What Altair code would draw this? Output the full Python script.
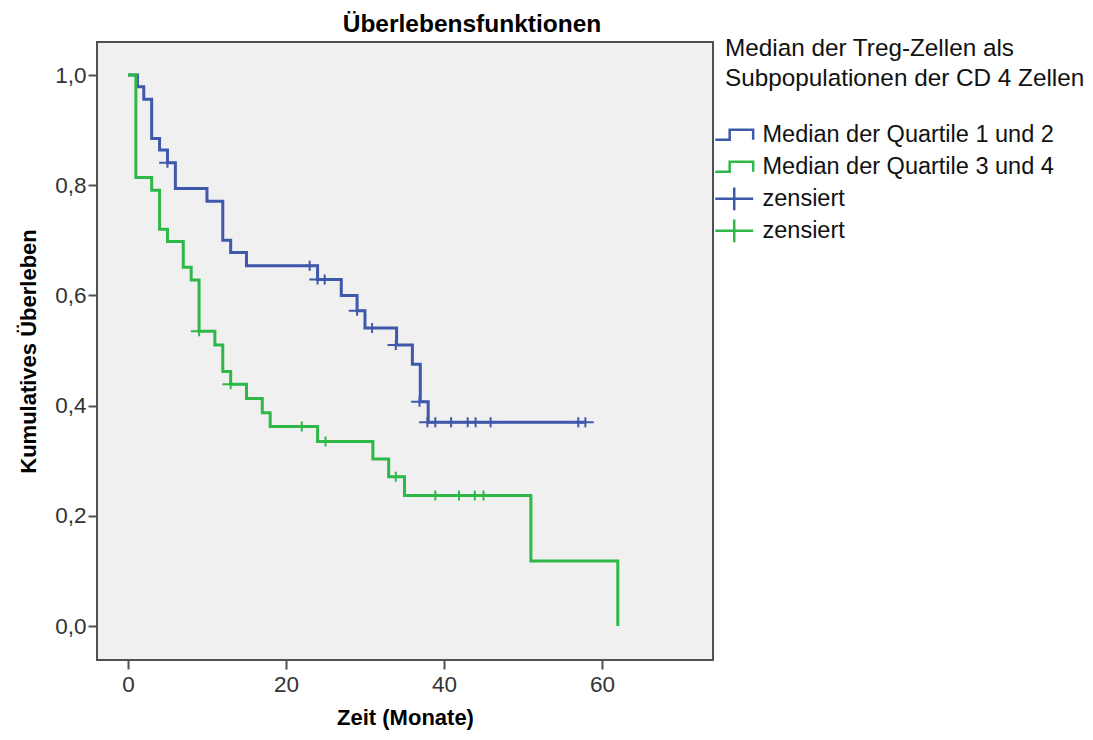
import altair as alt
import pandas as pd

# Kaplan-Meier step curves: time of each step (months) and survival after it
q12_time = [0, 1.2, 2.0, 3.0, 4.0, 5.0, 6.0, 10.0, 12.0, 13.0, 15.0, 24.0, 27.0, 29.0, 30.0, 34.0, 36.0, 37.0, 38.0, 57.9]
q12_surv = [1.0, 0.979, 0.956, 0.885, 0.864, 0.841, 0.794, 0.771, 0.700, 0.678, 0.654, 0.629, 0.600, 0.572, 0.541, 0.510, 0.475, 0.407, 0.370, 0.370]

q34_time = [0, 1.0, 3.0, 4.0, 5.0, 7.0, 8.0, 9.0, 11.0, 12.0, 13.0, 15.0, 17.0, 18.0, 24.0, 31.0, 33.0, 35.0, 51.0, 62.0]
q34_surv = [1.0, 0.814, 0.791, 0.720, 0.698, 0.651, 0.628, 0.535, 0.510, 0.462, 0.439, 0.413, 0.387, 0.362, 0.335, 0.303, 0.271, 0.237, 0.118, 0.0]

# Censored observations
q12_cens_time = [5.0, 23.0, 24.0, 24.9, 29.0, 30.9, 33.9, 36.9, 37.9, 38.9, 40.9, 43.0, 44.0, 45.9, 57.0, 57.9]
q12_cens_surv = [0.841, 0.654, 0.629, 0.629, 0.572, 0.541, 0.510, 0.407, 0.370, 0.370, 0.370, 0.370, 0.370, 0.370, 0.370, 0.370]

q34_cens_time = [9.0, 13.0, 22.0, 25.0, 33.9, 38.9, 41.9, 43.9, 45.0]
q34_cens_surv = [0.535, 0.439, 0.362, 0.335, 0.271, 0.237, 0.237, 0.237, 0.237]

keys = ["a", "b", "c", "d"]
key_labels = ["Median der Quartile 1 und 2", "Median der Quartile 3 und 4", "zensiert", "zensiert"]
colors = ["#3E58AC", "#2EB848", "#3E58AC", "#2EB848"]

# legend glyphs (shifted left so they hang out in front of the title);
# the trailing moves give both glyphs the same vertical extent
STEP = "M-1.77,0.35H-0.76V-0.35H0.89V0.35M-0.44,-0.8M-0.44,0.8"
PLUS = "M-1.77,0H0.89M-0.44,-0.8V0.8"
LEGEND_SYMBOL_SIZE = 812
MARK_SIZE = 156
# recentre the censor crosses on their data position
PLUS_SHIFT = 0.44 * (MARK_SIZE ** 0.5) / 2

curves = pd.concat([
    pd.DataFrame({"t": q12_time, "s": q12_surv, "key": "a"}),
    pd.DataFrame({"t": q34_time, "s": q34_surv, "key": "b"}),
])
cens = pd.concat([
    pd.DataFrame({"t": q12_cens_time, "s": q12_cens_surv, "key": "c"}),
    pd.DataFrame({"t": q34_cens_time, "s": q34_cens_surv, "key": "d"}),
])

FONT = "Liberation Sans"

label_expr = (
    f"datum.value == 'a' ? '{key_labels[0]}' : "
    f"datum.value == 'b' ? '{key_labels[1]}' : 'zensiert'"
)

legend = alt.Legend(
    title=["Median der Treg-Zellen als", "Subpopulationen der CD 4 Zellen"],
    orient="none",
    legendX=628,
    legendY=-5,
    labelExpr=label_expr,
    symbolSize=LEGEND_SYMBOL_SIZE,
    symbolStrokeWidth=2.5,
    symbolFillColor="transparent",
    labelOffset=6.5,
    rowPadding=-10,
)

x = alt.X(
    "t:Q",
    scale=alt.Scale(domain=[-3.92, 74.05], nice=False, zero=False),
    axis=alt.Axis(values=[0, 20, 40, 60], title="Zeit (Monate)", titlePadding=12),
)
y = alt.Y(
    "s:Q",
    scale=alt.Scale(domain=[-0.0617, 1.06], nice=False, zero=False),
    axis=alt.Axis(
        values=[0, 0.2, 0.4, 0.6, 0.8, 1.0],
        labelExpr="replace(format(datum.value, '.1f'), '.', ',')",
        title="Kumulatives Überleben",
        titlePadding=14,
    ),
)

color = alt.Color("key:N", scale=alt.Scale(domain=keys, range=colors), legend=legend)
shape = alt.Shape(
    "key:N",
    scale=alt.Scale(domain=keys, range=[STEP, STEP, PLUS, PLUS]),
    legend=legend,
)

lines = alt.Chart(curves).mark_line(interpolate="step-after", strokeWidth=3).encode(
    x=x, y=y, color=color, detail="key:N", order="t:Q"
)

marks = alt.Chart(cens).mark_point(
    filled=False, opacity=1, strokeWidth=2, size=MARK_SIZE, xOffset=PLUS_SHIFT
).encode(x=x, y=y, color=color, shape=shape)

chart = (
    alt.layer(lines, marks)
    .properties(
        width=616,
        height=618,
        title=alt.TitleParams(
            "Überlebensfunktionen",
            fontSize=24.5,
            fontWeight="bold",
            font=FONT,
            color="#000000",
            dx=67,
            offset=0,
        ),
        autosize=alt.AutoSizeParams(type="none"),
        padding={"left": 97, "top": 42, "right": 380, "bottom": 80},
    )
    .configure(font=FONT)
    .configure_view(fill="#F0F0F0", stroke="#505050", strokeWidth=2)
    .configure_axis(
        grid=False,
        domain=False,
        tickSize=9,
        tickWidth=2,
        tickColor="#505050",
        labelFontSize=22.5,
        labelColor="#333333",
        labelFont=FONT,
        titleFont=FONT,
        titleFontSize=22,
        titleFontWeight="bold",
        titleColor="#000000",
    )
    .configure_axisY(labelPadding=2)
    .configure_axisX(labelPadding=4)
    .configure_legend(
        titleFont=FONT,
        titleFontSize=24.3,
        titleFontWeight="normal",
        titleColor="#111111",
        titleLineHeight=30,
        titlePadding=28,
        titleLimit=600,
        labelFont=FONT,
        labelFontSize=23.5,
        labelColor="#111111",
        labelLimit=600,
    )
)

chart.save("out.html", embed_options={"renderer": "svg", "actions": False})
